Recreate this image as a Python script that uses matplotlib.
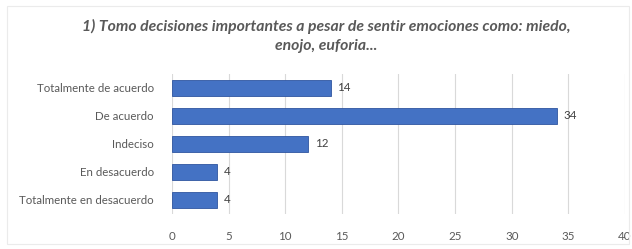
import matplotlib.pyplot as plt
from matplotlib.patches import Rectangle

categories = ["Totalmente de acuerdo", "De acuerdo", "Indeciso", "En desacuerdo",
              "Totalmente en desacuerdo"]
values = [14, 34, 12, 4, 4]
xticks = [0, 5, 10, 15, 20, 25, 30, 35, 40]
title = "1) Tomo decisiones importantes a pesar de sentir emociones como: miedo,\nenojo, euforia..."

plt.rcParams['font.family'] = ['Lato', 'DejaVu Sans']

fig = plt.figure(figsize=(6.32, 2.49), dpi=100)
fig.patches.append(Rectangle((0.011, 0.02), 0.985, 0.955, transform=fig.transFigure,
                             fill=False, edgecolor='#EBEBEB', linewidth=0.8))
ax = fig.add_axes([0.272, 0.141, 0.717, 0.562])

ypos = list(range(len(categories)))
ax.barh(ypos, values, height=0.58, color='#4472C4', edgecolor='#2F55A0', linewidth=0.6, zorder=3)
ax.set_ylim(4.5, -0.5)
ax.set_xlim(0, 40)
ax.set_xticks(xticks)
ax.set_yticks(ypos)
ax.set_yticklabels(categories, fontsize=8.3, color='#595959')
ax.tick_params(axis='x', labelsize=8.3, colors='#595959', length=0, pad=12)
ax.tick_params(axis='y', length=0, pad=13)
ax.grid(axis='x', color='#D9D9D9', linewidth=0.8, zorder=0)
for s in ax.spines.values():
    s.set_visible(False)

for y, v in zip(ypos, values):
    ax.text(v + 0.6, y, str(v), va='center', ha='left', fontsize=8.3, color='#404040')

fig.text(0.516, 0.855, title, ha='center', va='center', fontsize=11.3,
         fontweight='bold', fontstyle='italic', color='#595959', linespacing=1.4)

fig.savefig('out.png', dpi=100)
